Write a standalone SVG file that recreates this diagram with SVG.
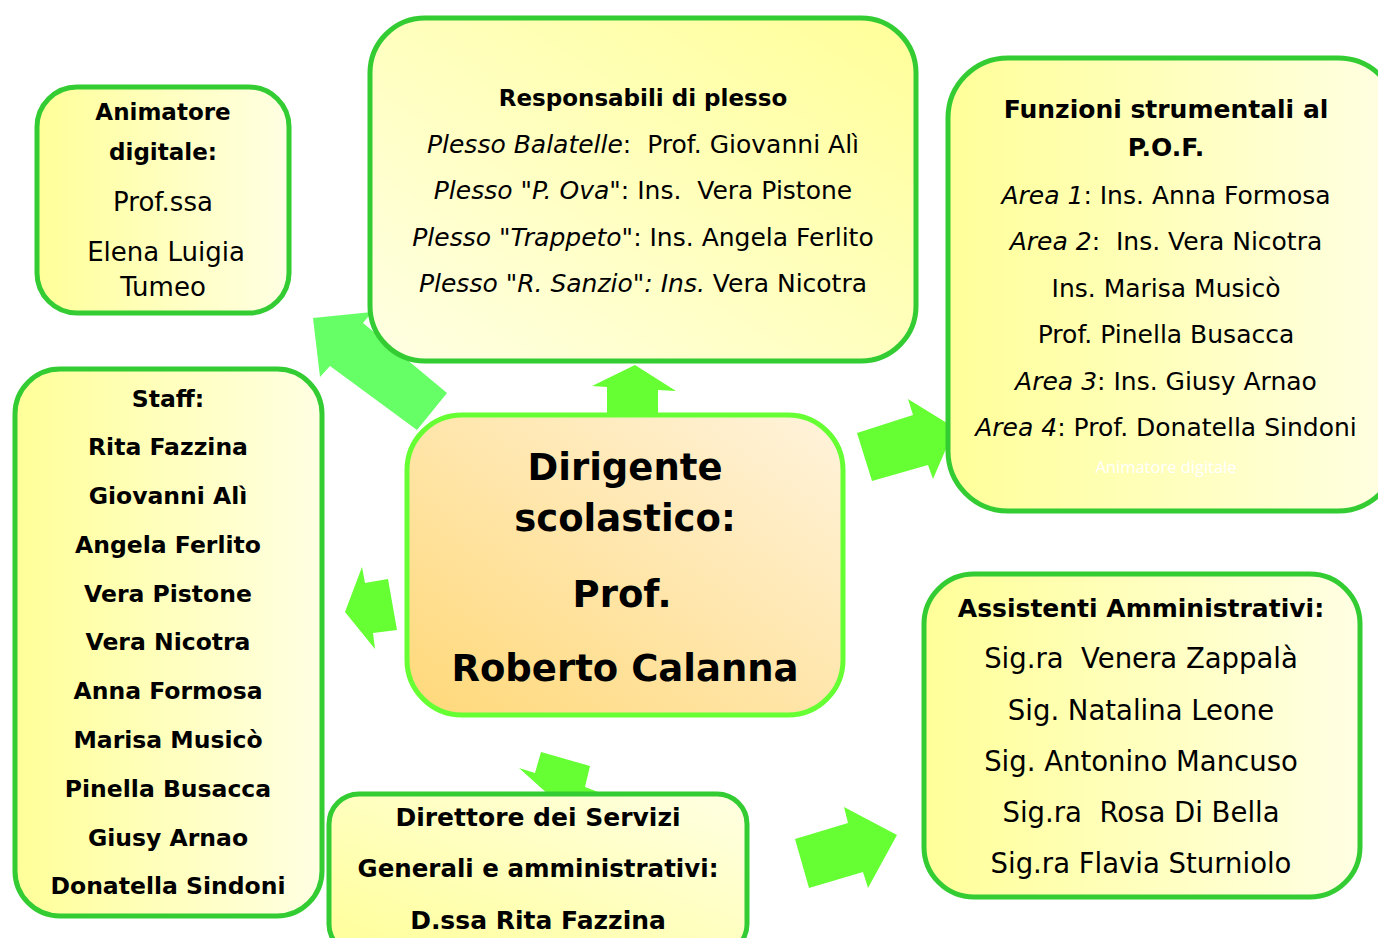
<svg xmlns="http://www.w3.org/2000/svg" width="1378" height="938" viewBox="0 0 1378 938">
<defs>
<linearGradient id="gY" x1="0" y1="0" x2="1" y2="0"><stop offset="0" stop-color="#ffff99"/><stop offset="1" stop-color="#ffffe3"/></linearGradient>
<linearGradient id="gYtr" x1="0" y1="1" x2="1" y2="0"><stop offset="0" stop-color="#ffffe3"/><stop offset="1" stop-color="#ffff99"/></linearGradient>
<linearGradient id="gYbl" x1="0" y1="1" x2="1" y2="0"><stop offset="0" stop-color="#ffff99"/><stop offset="1" stop-color="#ffffe3"/></linearGradient>
<linearGradient id="gO" x1="0" y1="1" x2="1" y2="0"><stop offset="0" stop-color="#ffd878"/><stop offset="1" stop-color="#fff3dc"/></linearGradient>
</defs>
<style>
.box{stroke:#33cc33;stroke-width:5}
.arr{fill:#66ff33}
text{font-family:"Comic Sans MS","DejaVu Sans",sans-serif;fill:#000;text-anchor:middle;white-space:pre}
.b{font-weight:bold}
.i{font-style:italic}
</style>
<rect width="1378" height="938" fill="#fff"/>
<g id="connectors">
<polygon fill="#66ff66" points="313,318 372,312 363,323 447,393 417,430 330,366 320,377"/>
<polygon class="arr" points="635,365 676,391 658,390 658,420 607,420 607,387 592,386"/>
<polygon class="arr" points="857,433 913,415 908,399 955,428 933,479 928,465 872,481"/>
<polygon class="arr" points="345,612 362,567 365,583 388,579 397,630 373,633 375,649"/>
<polygon class="arr" points="541,752 590,766 585,787 598,792 560,805 519,768 535,773"/>
<polygon class="arr" points="795,839 848,823 844,807 897,835 868,888 863,872 809,888"/>
</g>
<g id="animatore">
<rect class="box" x="37" y="87" width="252" height="226" rx="40" fill="url(#gY)"/>
<text class="b" x="163" y="120" font-size="23">Animatore</text>
<text class="b" x="163" y="160" font-size="23">digitale:</text>
<text x="163" y="211" font-size="26">Prof.ssa</text>
<text x="166" y="261" font-size="26">Elena Luigia</text>
<text x="163" y="296" font-size="26">Tumeo</text>
</g>
<g id="responsabili">
<rect class="box" x="370" y="18" width="546" height="343" rx="55" fill="url(#gYtr)"/>
<text class="b" x="643" y="106" font-size="23">Responsabili di plesso</text>
<text x="643" y="153" font-size="25"><tspan class="i">Plesso Balatelle</tspan>:  Prof. Giovanni Alì</text>
<text x="643" y="199" font-size="25"><tspan class="i">Plesso "P. Ova"</tspan>: Ins.  Vera Pistone</text>
<text x="643" y="246" font-size="25"><tspan class="i">Plesso "Trappeto"</tspan>: Ins. Angela Ferlito</text>
<text x="643" y="292" font-size="25"><tspan class="i">Plesso "R. Sanzio": Ins.</tspan> Vera Nicotra</text>
</g>
<g id="funzioni">
<rect class="box" x="948" y="58" width="450" height="453" rx="60" fill="url(#gY)"/>
<text class="b" x="1166" y="118" font-size="25">Funzioni strumentali al</text>
<text class="b" x="1166" y="156" font-size="25">P.O.F.</text>
<text x="1166" y="204" font-size="25"><tspan class="i">Area 1</tspan>: Ins. Anna Formosa</text>
<text x="1166" y="250" font-size="25"><tspan class="i">Area 2</tspan>:  Ins. Vera Nicotra</text>
<text x="1166" y="297" font-size="25">Ins. Marisa Musicò</text>
<text x="1166" y="343" font-size="25">Prof. Pinella Busacca</text>
<text x="1166" y="390" font-size="25"><tspan class="i">Area 3</tspan>: Ins. Giusy Arnao</text>
<text x="1166" y="436" font-size="25"><tspan class="i">Area 4</tspan>: Prof. Donatella Sindoni</text>
<text x="1166" y="473" font-size="16.5" style="fill:#ffffff;font-family:'Open Sans','Liberation Sans',sans-serif">Animatore digitale</text>
</g>
<g id="staff">
<rect class="box" x="15" y="369" width="307" height="547" rx="45" fill="url(#gY)"/>
<text class="b" x="168" y="407" font-size="23.5">Staff:</text>
<text class="b" x="168" y="455" font-size="23.5">Rita Fazzina</text>
<text class="b" x="168" y="504" font-size="23.5">Giovanni Alì</text>
<text class="b" x="168" y="553" font-size="23.5">Angela Ferlito</text>
<text class="b" x="168" y="602" font-size="23.5">Vera Pistone</text>
<text class="b" x="168" y="650" font-size="23.5">Vera Nicotra</text>
<text class="b" x="168" y="699" font-size="23.5">Anna Formosa</text>
<text class="b" x="168" y="748" font-size="23.5">Marisa Musicò</text>
<text class="b" x="168" y="797" font-size="23.5">Pinella Busacca</text>
<text class="b" x="168" y="846" font-size="23.5">Giusy Arnao</text>
<text class="b" x="168" y="894" font-size="23.5">Donatella Sindoni</text>
</g>
<g id="dirigente">
<rect x="407" y="415" width="436" height="300" rx="55" fill="url(#gO)" stroke="#66ff33" stroke-width="5"/>
<text class="b" x="625" y="480" font-size="37">Dirigente</text>
<text class="b" x="625" y="531" font-size="37">scolastico:</text>
<text class="b" x="622" y="607" font-size="37">Prof.</text>
<text class="b" x="625" y="681" font-size="37">Roberto Calanna</text>
</g>
<g id="direttore">
<rect class="box" x="329" y="794" width="418" height="160" rx="30" fill="url(#gYbl)"/>
<text class="b" x="538" y="826" font-size="25">Direttore dei Servizi</text>
<text class="b" x="538" y="877" font-size="24.5">Generali e amministrativi:</text>
<text class="b" x="538" y="929" font-size="25">D.ssa Rita Fazzina</text>
</g>
<g id="assistenti">
<rect class="box" x="924" y="574" width="436" height="323" rx="50" fill="url(#gY)"/>
<text class="b" x="1141" y="617" font-size="25">Assistenti Amministrativi:</text>
<text x="1141" y="668" font-size="27.5">Sig.ra  Venera Zappalà</text>
<text x="1141" y="720" font-size="27.5">Sig. Natalina Leone</text>
<text x="1141" y="771" font-size="27.5">Sig. Antonino Mancuso</text>
<text x="1141" y="822" font-size="27.5">Sig.ra  Rosa Di Bella</text>
<text x="1141" y="873" font-size="27.5">Sig.ra Flavia Sturniolo</text>
</g>
</svg>
